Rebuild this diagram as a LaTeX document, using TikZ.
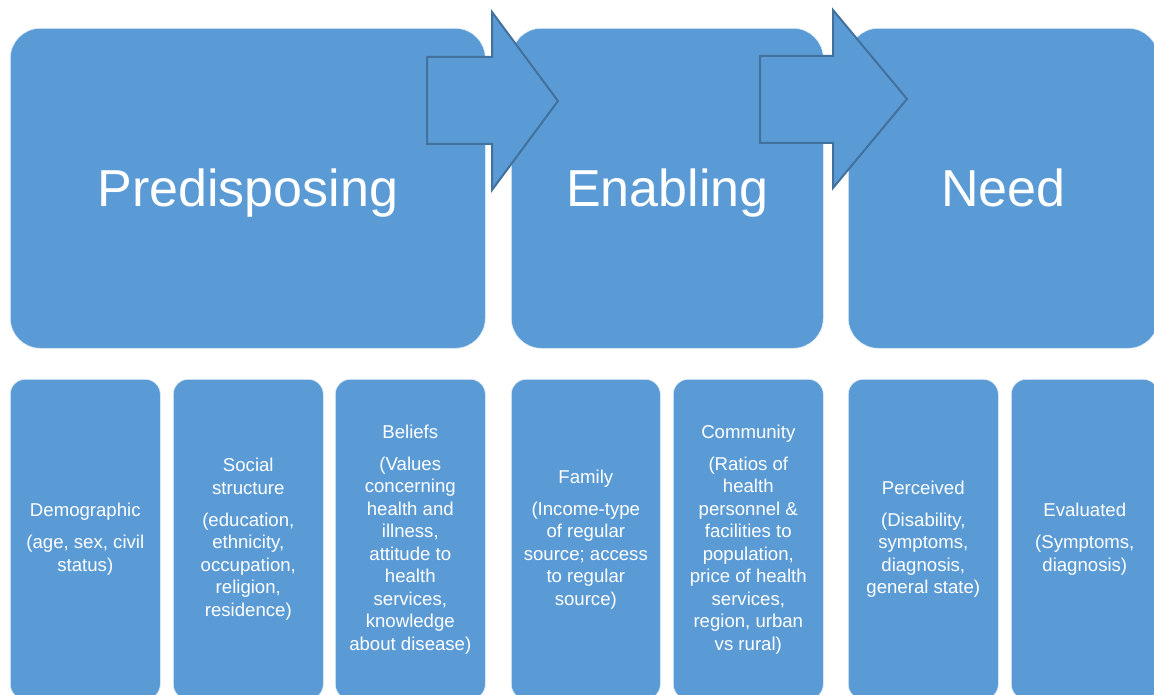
\documentclass[tikz,border=0pt]{standalone}
\usepackage{fontspec}
\setmainfont{Liberation Sans}
\definecolor{boxblue}{HTML}{5B9BD5}
\definecolor{arrowline}{HTML}{41719C}
\begin{document}
\begin{tikzpicture}[x=1pt,y=-1pt,
  bigbox/.style={fill=boxblue,draw=white!80!boxblue,line width=0.6pt,rounded corners=30pt,
    anchor=north west,inner sep=0pt,text=white,font=\fontsize{52}{60}\selectfont,
    text height=38pt,text depth=2pt},
  smallbox/.style={fill=boxblue,draw=white!80!boxblue,line width=0.6pt,rounded corners=15pt,
    anchor=north west,inner sep=0pt,text=white,align=center,
    font=\fontsize{18.6}{22.5}\selectfont},
  bigarrow/.style={fill=boxblue,draw=arrowline,line width=2pt,line join=miter}]
\useasboundingbox (0,0) rectangle (1154,695);
\clip (0,0) rectangle (1154,695);
% top boxes
\node[bigbox,minimum width=475pt,minimum height=320pt] (pre) at (10,28) {Predisposing};
\node[bigbox,minimum width=312pt,minimum height=320pt] (ena) at (511,28) {Enabling};
\node[bigbox,minimum width=310pt,minimum height=320pt] (need) at (848,28) {Need};
% arrows
\draw[bigarrow] (427,57) -- (492,57) -- (492,12) -- (558,101) -- (492,190) -- (492,144) -- (427,144) -- cycle;
\draw[bigarrow] (760,56) -- (833,56) -- (833,10) -- (907,99) -- (833,188) -- (833,143) -- (760,143) -- cycle;
% bottom boxes
\node[smallbox,minimum width=150pt,minimum height=320pt] (demo) at (10,379)
  {Demographic\\[9.5pt](age, sex, civil\\status)};
\node[smallbox,minimum width=150pt,minimum height=320pt] (soc) at (173,379)
  {Social\\structure\\[9.5pt](education,\\ethnicity,\\occupation,\\religion,\\residence)};
\node[smallbox,minimum width=150pt,minimum height=320pt] (bel) at (335,379)
  {Beliefs\\[9.5pt](Values\\concerning\\health and\\illness,\\attitude to\\health\\services,\\knowledge\\about disease)};
\node[smallbox,minimum width=149pt,minimum height=320pt] (fam) at (511,379)
  {Family\\[9.5pt](Income-type\\of regular\\source; access\\to regular\\source)};
\node[smallbox,minimum width=150pt,minimum height=320pt] (com) at (673,379)
  {Community\\[9.5pt](Ratios of\\health\\personnel \&\\facilities to\\population,\\price of health\\services,\\region, urban\\vs rural)};
\node[smallbox,minimum width=150pt,minimum height=320pt] (per) at (848,379)
  {Perceived\\[9.5pt](Disability,\\symptoms,\\diagnosis,\\general state)};
\node[smallbox,minimum width=147pt,minimum height=320pt] (eva) at (1011,379)
  {Evaluated\\[9.5pt](Symptoms,\\diagnosis)};
\end{tikzpicture}
\end{document}
